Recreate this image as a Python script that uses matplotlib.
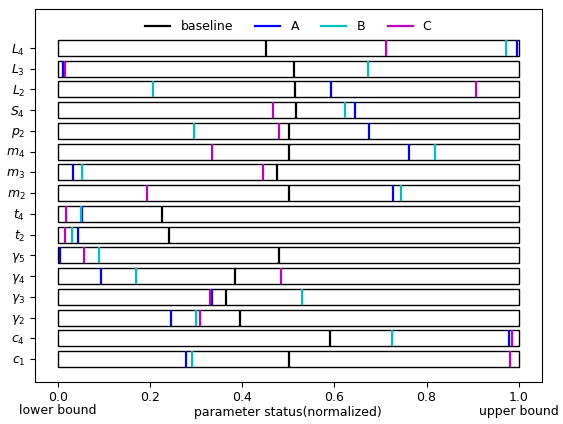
import matplotlib
matplotlib.use("Agg")
import matplotlib.pyplot as plt
from matplotlib.patches import Rectangle
import matplotlib.transforms as mtransforms

params = [r"$L_4$", r"$L_3$", r"$L_2$", r"$S_4$", r"$p_2$", r"$m_4$", r"$m_3$", r"$m_2$",
          r"$t_4$", r"$t_2$", r"$\gamma_5$", r"$\gamma_4$", r"$\gamma_3$", r"$\gamma_2$",
          r"$c_4$", r"$c_1$"]

baseline = [0.452, 0.513, 0.514, 0.517, 0.501, 0.501, 0.476, 0.501,
            0.225, 0.240, 0.479, 0.385, 0.364, 0.396, 0.590, 0.501]
series_A = [0.996, 0.011, 0.592, 0.644, 0.675, 0.762, 0.033, 0.727,
            0.051, 0.044, 0.004, 0.093, 0.334, 0.246, 0.978, 0.278]
series_B = [0.972, 0.673, 0.207, 0.624, 0.296, 0.818, 0.051, 0.744,
            0.049, 0.030, 0.088, 0.170, 0.530, 0.300, 0.725, 0.291]
series_C = [0.713, 0.0145, 0.908, 0.467, 0.480, 0.334, 0.444, 0.193,
            0.018, 0.016, 0.0565, 0.484, 0.330, 0.308, 0.985, 0.981]

series = [("baseline", baseline, "k"), ("A", series_A, "b"),
          ("B", series_B, "c"), ("C", series_C, "m")]

fig = plt.figure(figsize=(5.63, 4.24), dpi=100)
ax = fig.add_axes([0.0622, 0.0983, 0.9, 0.8807])

n = len(params)
ypos = [n - 1 - i for i in range(n)]
h = 0.78

for y in ypos:
    ax.add_patch(Rectangle((0, y - h / 2), 1, h, facecolor="white",
                           edgecolor="black", linewidth=1.0, zorder=1))

for name, vals, col in series:
    ax.vlines(vals, [y - h / 2 for y in ypos], [y + h / 2 for y in ypos],
              colors=col, linewidth=1.6, zorder=2)
    ax.plot([], [], color=col, linewidth=1.6, label=name)

ax.set_xlim(-0.05, 1.05)
ax.set_ylim(-1.12, n - 1 + 1.88)
ax.set_yticks(ypos)
ax.set_yticklabels(params, fontsize=9)
ax.set_xticks([0.0, 0.2, 0.4, 0.6, 0.8, 1.0])
ax.set_xticklabels(["0.0", "0.2", "0.4", "0.6", "0.8", "1.0"], fontsize=9)
ax.tick_params(axis="x", pad=3)
ax.set_xlabel("parameter status(normalized)", fontsize=9, labelpad=1)

trans = mtransforms.blended_transform_factory(ax.transData, fig.transFigure)
ax.text(0.0, 1 - 414.5 / 424, "lower bound", transform=trans, ha="center",
        va="baseline", fontsize=9)
ax.text(1.0, 1 - 414.5 / 424, "upper bound", transform=trans, ha="center",
        va="baseline", fontsize=9)

ax.legend(loc="upper center", ncol=4, frameon=False, fontsize=9,
          handlelength=2.0, columnspacing=1.8, bbox_to_anchor=(0.5, 1.0))

fig.savefig("out.png", dpi=100)
